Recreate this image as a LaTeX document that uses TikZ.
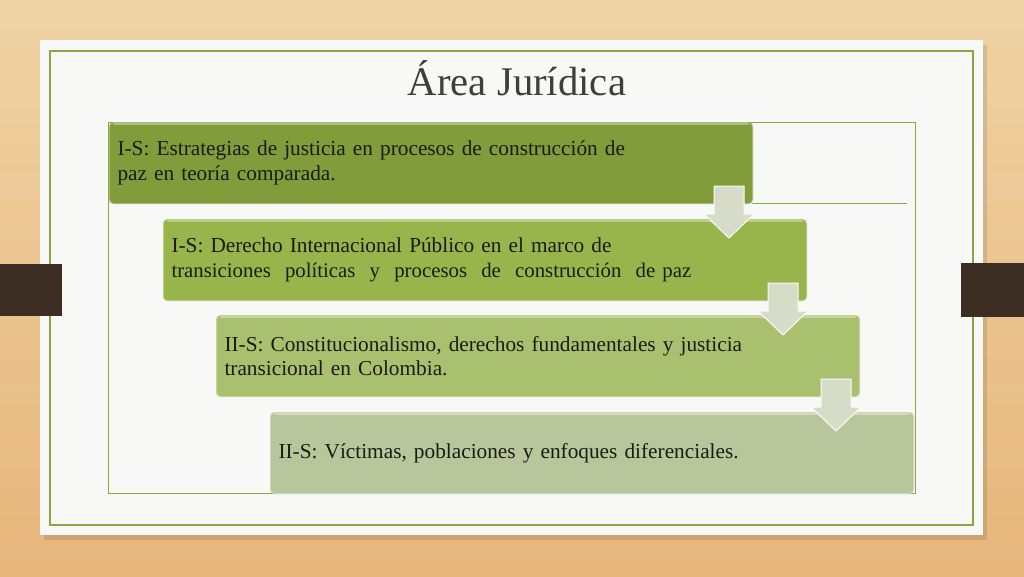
\documentclass[tikz,border=0pt]{standalone}
\usepackage{fontspec}
\setmainfont{Liberation Serif}
\usetikzlibrary{calc,patterns,shadows}
\definecolor{woodA}{HTML}{EFD3A4}
\definecolor{woodB}{HTML}{E6B57A}
\definecolor{cardbg}{HTML}{F8F8F6}
\definecolor{frameg}{HTML}{8CA545}
\definecolor{tabbrown}{HTML}{3D2E24}
\definecolor{boxA}{HTML}{819C3B}
\definecolor{boxB}{HTML}{97B54B}
\definecolor{boxC}{HTML}{A9C16F}
\definecolor{boxD}{HTML}{B7C79B}
\definecolor{arrowfill}{HTML}{D7DCC8}
\definecolor{titlecol}{HTML}{3E3E3E}
\definecolor{txt}{HTML}{1B1B14}
\tikzset{
  stepbox/.style={rectangle, rounded corners=4pt, minimum width=643pt, minimum height=81pt,
    text width=627pt, inner xsep=8pt, align=left, anchor=north west, text=txt,
    font=\fontsize{21.3}{24.5}\selectfont},
  dnarrow/.style={fill=arrowfill, draw=white!85!arrowfill, line width=1pt, line join=miter},
  thinframe/.style={draw=frameg, line width=0.8pt},
  hilite/.style={draw=white, opacity=0.35, line width=1.6pt, line cap=round}
}
\begin{document}
\begin{tikzpicture}[x=1pt,y=-1pt]
\useasboundingbox (0,0) rectangle (1024,576);
% wood background
\shade[top color=woodA, bottom color=woodB] (0,0) rectangle (1024,576);
\foreach \yy/\op in {18/0.05,95/0.04,170/0.03,380/0.035,455/0.045,548/0.05}{
  \fill[white,opacity=\op] (0,\yy) rectangle (1024,\yy+14);
}
% card with shadow
\fill[black,opacity=0.10] (44,45) rectangle (987,540);
\fill[cardbg] (40,40) rectangle (983,535);
\draw[frameg, line width=1.3pt] (50,51) rectangle (973,525);
% brown tabs
\fill[tabbrown] (0,264) rectangle (62,316);
\fill[tabbrown] (961,263) rectangle (1024,317);
% inner frame
\draw[thinframe] (108,122) rectangle (915,493);
\draw[thinframe] (752,203) -- (907,203);
% title
\node[anchor=base, text=titlecol, font=\fontsize{40.7}{46}\selectfont] (title) at (517,95) {Área Jurídica};
% boxes
\node[stepbox, fill=boxA, draw=boxA!70!white, line width=1pt] (b1) at (109,122)
  {I-S: Estrategias de justicia en procesos de construcción de\\paz en teoría comparada.};
\node[stepbox, fill=boxB, draw=boxB!70!white, line width=1pt] (b2) at (163,219)
  {I-S: Derecho Internacional Público en el marco de\\{\fontsize{20.8}{24.5}\selectfont transiciones~ políticas~ y~ procesos~ de~ construcción~ de paz}};
\node[stepbox, fill=boxC, draw=boxC!70!white, line width=1pt] (b3) at (216,315)
  {II-S: Constitucionalismo, derechos fundamentales y justicia\\transicional en Colombia.};
\node[stepbox, fill=boxD, draw=boxD!70!white, line width=1pt] (b4) at (270,412)
  {II-S: Víctimas, poblaciones y enfoques diferenciales.};
\foreach \b in {b1,b2,b3,b4}{
  \draw[hilite] ($(\b.north west)+(5,2)$) -- ($(\b.north east)+(-5,2)$);
}
% arrows between boxes
\foreach \a/\b in {b1/b2,b2/b3,b3/b4}{
  \coordinate (t\a) at ($(\a.south east)+(-24,-18)$);
  \draw[dnarrow] ($(t\a)+(-15,0)$) -- ($(t\a)+(15,0)$) -- ($(t\a)+(15,28)$) -- ($(t\a)+(25,28)$)
     -- ($(t\a)+(0,52)$) -- ($(t\a)+(-25,28)$) -- ($(t\a)+(-15,28)$) -- cycle;
}
\end{tikzpicture}
\end{document}
